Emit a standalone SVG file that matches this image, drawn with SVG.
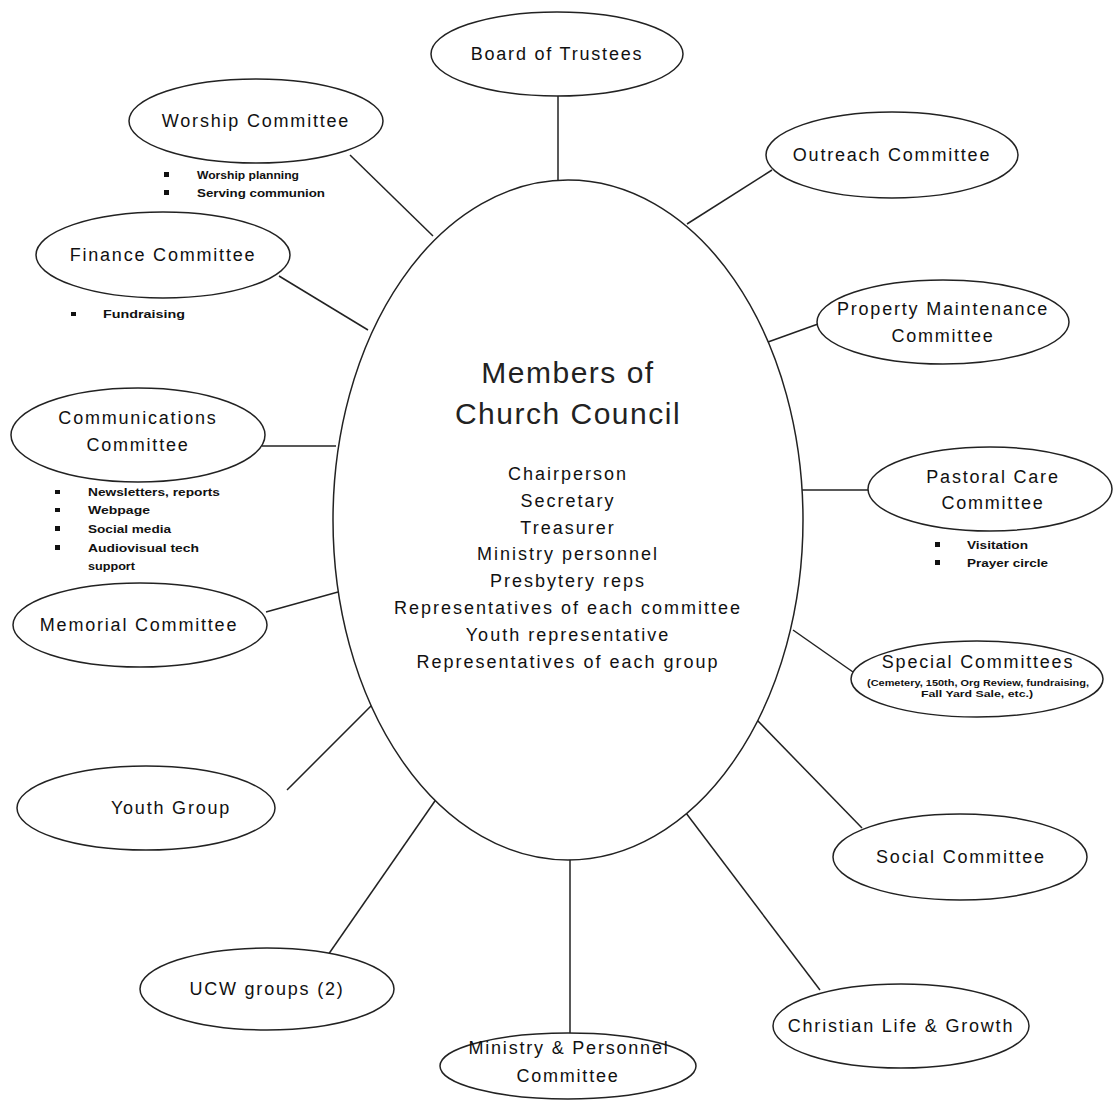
<svg xmlns="http://www.w3.org/2000/svg" width="1113" height="1101" viewBox="0 0 1113 1101">
<style>
.node ellipse{fill:#fff;stroke:#222;stroke-width:1.5}
.lbl{font-family:"Liberation Sans",Arial,sans-serif;font-size:18px;letter-spacing:1.8px;fill:#111;text-anchor:middle}
.title{font-family:"Liberation Sans",Arial,sans-serif;font-size:30px;letter-spacing:1.5px;fill:#222;text-anchor:middle}
.item{font-family:"Liberation Sans",Arial,sans-serif;font-size:18px;letter-spacing:2px;fill:#111;text-anchor:middle}
.sm{font-family:"Liberation Sans",Arial,sans-serif;font-size:11.5px;font-weight:bold;fill:#111}
.tiny{font-family:"Liberation Sans",Arial,sans-serif;font-size:9px;font-weight:bold;fill:#111;text-anchor:middle}
.bul{fill:#111}
#connectors line{stroke:#222;stroke-width:1.5}
</style>
<rect width="1113" height="1101" fill="#fff"/>
<g id="connectors">
<line x1="558" y1="96" x2="558" y2="181"/>
<line x1="350" y1="155" x2="433" y2="236"/>
<line x1="772" y1="170" x2="687" y2="224"/>
<line x1="279" y1="276" x2="368" y2="330"/>
<line x1="818" y1="324" x2="768" y2="342"/>
<line x1="262" y1="446" x2="336" y2="446"/>
<line x1="802" y1="490" x2="868" y2="490"/>
<line x1="266" y1="612" x2="338" y2="592"/>
<line x1="853" y1="672" x2="793" y2="630"/>
<line x1="287" y1="790" x2="372" y2="705"/>
<line x1="862" y1="828" x2="757" y2="720"/>
<line x1="328" y1="955" x2="437" y2="798"/>
<line x1="820" y1="990" x2="686" y2="813"/>
<line x1="570" y1="859" x2="570" y2="1033"/>
</g>
<g id="council" class="node">
<ellipse cx="568" cy="520" rx="235" ry="340"/>
<text class="title" x="568" y="383">Members of</text>
<text class="title" x="568" y="424">Church Council</text>
<text class="item" x="568" y="480">Chairperson</text>
<text class="item" x="568" y="507">Secretary</text>
<text class="item" x="568" y="534">Treasurer</text>
<text class="item" x="568" y="560">Ministry personnel</text>
<text class="item" x="568" y="587">Presbytery reps</text>
<text class="item" x="568" y="614">Representatives of each committee</text>
<text class="item" x="568" y="641">Youth representative</text>
<text class="item" x="568" y="668">Representatives of each group</text>
</g>
<g id="trustees" class="node">
<ellipse cx="557" cy="54" rx="126" ry="42"/>
<text class="lbl" x="557" y="60">Board of Trustees</text>
</g>
<g id="worship" class="node">
<ellipse cx="256" cy="121" rx="127" ry="42"/>
<text class="lbl" x="256" y="127">Worship Committee</text>
<rect class="bul" x="164" y="172" width="5" height="5"/>
<text class="sm" x="197" y="179" textLength="102" lengthAdjust="spacingAndGlyphs">Worship planning</text>
<rect class="bul" x="164" y="190" width="5" height="5"/>
<text class="sm" x="197" y="197" textLength="128" lengthAdjust="spacingAndGlyphs">Serving communion</text>
</g>
<g id="outreach" class="node">
<ellipse cx="892" cy="155" rx="126" ry="43"/>
<text class="lbl" x="892" y="161">Outreach Committee</text>
</g>
<g id="finance" class="node">
<ellipse cx="163" cy="255" rx="127" ry="43"/>
<text class="lbl" x="163" y="261">Finance Committee</text>
<rect class="bul" x="71" y="312" width="5" height="4"/>
<text class="sm" x="103" y="318" textLength="82" lengthAdjust="spacingAndGlyphs">Fundraising</text>
</g>
<g id="property" class="node">
<ellipse cx="943" cy="322" rx="126" ry="42"/>
<text class="lbl" x="943" y="315">Property Maintenance</text>
<text class="lbl" x="943" y="342">Committee</text>
</g>
<g id="communications" class="node">
<ellipse cx="138" cy="435" rx="127" ry="47"/>
<text class="lbl" x="138" y="424">Communications</text>
<text class="lbl" x="138" y="451">Committee</text>
<rect class="bul" x="55" y="490" width="5" height="4"/>
<text class="sm" x="88" y="496" textLength="132" lengthAdjust="spacingAndGlyphs">Newsletters, reports</text>
<rect class="bul" x="55" y="508" width="5" height="4"/>
<text class="sm" x="88" y="514" textLength="62" lengthAdjust="spacingAndGlyphs">Webpage</text>
<rect class="bul" x="55" y="526" width="5" height="5"/>
<text class="sm" x="88" y="533" textLength="83" lengthAdjust="spacingAndGlyphs">Social media</text>
<rect class="bul" x="55" y="545" width="5" height="5"/>
<text class="sm" x="88" y="552" textLength="111" lengthAdjust="spacingAndGlyphs">Audiovisual tech</text>
<text class="sm" x="88" y="570" textLength="47" lengthAdjust="spacingAndGlyphs">support</text>
</g>
<g id="pastoral" class="node">
<ellipse cx="990" cy="489" rx="122" ry="42"/>
<text class="lbl" x="993" y="483">Pastoral Care</text>
<text class="lbl" x="993" y="509">Committee</text>
<rect class="bul" x="935" y="542" width="5" height="5"/>
<text class="sm" x="967" y="549" textLength="61" lengthAdjust="spacingAndGlyphs">Visitation</text>
<rect class="bul" x="935" y="560" width="5" height="5"/>
<text class="sm" x="967" y="567" textLength="81" lengthAdjust="spacingAndGlyphs">Prayer circle</text>
</g>
<g id="memorial" class="node">
<ellipse cx="140" cy="625" rx="127" ry="42"/>
<text class="lbl" x="139" y="631">Memorial Committee</text>
</g>
<g id="special" class="node">
<ellipse cx="977" cy="679" rx="126" ry="38"/>
<text class="lbl" x="978" y="668">Special Committees</text>
<text class="tiny" x="978" y="686" textLength="222" lengthAdjust="spacingAndGlyphs">(Cemetery, 150th, Org Review, fundraising,</text>
<text class="tiny" x="977" y="697" textLength="112" lengthAdjust="spacingAndGlyphs">Fall Yard Sale, etc.)</text>
</g>
<g id="youth" class="node">
<ellipse cx="146" cy="808" rx="129" ry="42"/>
<text class="lbl" x="171" y="814">Youth Group</text>
</g>
<g id="social" class="node">
<ellipse cx="960" cy="857" rx="127" ry="43"/>
<text class="lbl" x="961" y="863">Social Committee</text>
</g>
<g id="ucw" class="node">
<ellipse cx="267" cy="989" rx="127" ry="41"/>
<text class="lbl" x="267" y="995">UCW groups (2)</text>
</g>
<g id="christian" class="node">
<ellipse cx="901" cy="1026" rx="128" ry="42"/>
<text class="lbl" x="901" y="1032">Christian Life &amp; Growth</text>
</g>
<g id="ministry" class="node">
<ellipse cx="568" cy="1066" rx="128" ry="33"/>
<text class="lbl" x="569" y="1054">Ministry &amp; Personnel</text>
<text class="lbl" x="568" y="1082">Committee</text>
</g>
</svg>
